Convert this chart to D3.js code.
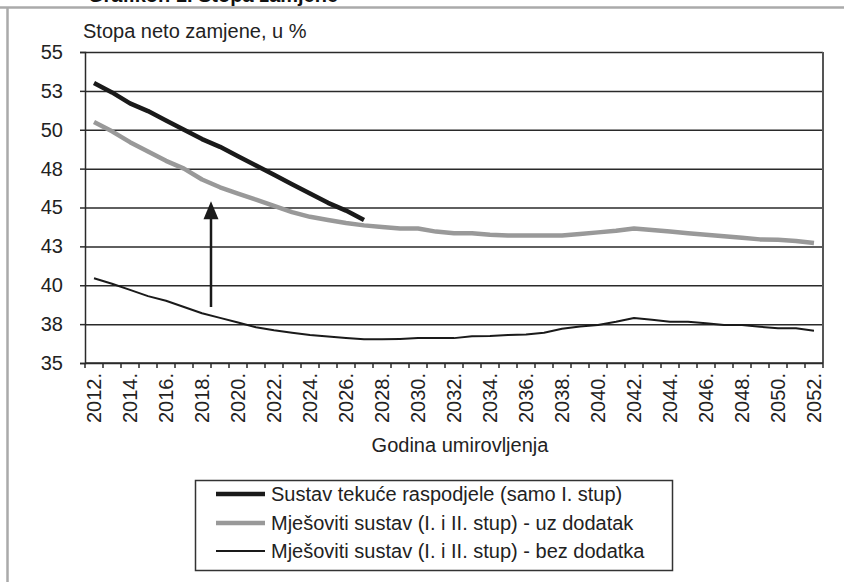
<!DOCTYPE html>
<html>
<head>
<meta charset="utf-8">
<script src="https://cdn.jsdelivr.net/npm/d3@7"></script>
<style>
  body { margin: 0; background: #fff; }
  svg text { font-family: "Liberation Sans", Arial, sans-serif; fill: #222; }
</style>
</head>
<body>
<div id="chart"></div>
<script>
// godine umirovljenja
const years = d3.range(2012, 2053).map(String);
const xTickLabels = d3.range(2012, 2053, 2).map(String);

// Sustav tekuce raspodjele (samo I. stup), 2012-2027
const payg = [53.0, 52.4, 51.7, 51.2, 50.6, 50.0, 49.4, 48.9, 48.3, 47.7,
              47.1, 46.5, 45.9, 45.3, 44.8, 44.2];

// Mjesoviti sustav - uz dodatak
const mixedWith = [50.5, 49.9, 49.2, 48.6, 48.0, 47.5, 46.8, 46.3, 45.9, 45.5,
                   45.1, 44.7, 44.4, 44.2, 44.0, 43.85, 43.75, 43.65, 43.65, 43.45,
                   43.35, 43.35, 43.25, 43.2, 43.2, 43.2, 43.2, 43.3, 43.4, 43.5,
                   43.65, 43.55, 43.45, 43.35, 43.25, 43.15, 43.05, 42.95, 42.93, 42.85,
                   42.72];

// Mjesoviti sustav - bez dodatka
const mixedWithout = [40.45, 40.1, 39.7, 39.3, 39.0, 38.6, 38.2, 37.9, 37.6, 37.3,
                      37.1, 36.95, 36.8, 36.7, 36.6, 36.52, 36.52, 36.55, 36.6, 36.6,
                      36.6, 36.72, 36.74, 36.8, 36.84, 36.95, 37.2, 37.35, 37.45, 37.65,
                      37.9, 37.78, 37.66, 37.66, 37.55, 37.44, 37.44, 37.33, 37.23, 37.23,
                      37.08];

const yTicks = [35, 37.5, 40, 42.5, 45, 47.5, 50, 52.5, 55];
const yTickLabels = ["35", "38", "40", "43", "45", "48", "50", "53", "55"];

const seriesNames = ["Sustav tekuće raspodjele (samo I. stup)",
                     "Mješoviti sustav (I. i II. stup) - uz dodatak",
                     "Mješoviti sustav (I. i II. stup) - bez dodatka"];

// strelica: od/do vrijednosti
const arrowFrom = 38.6;
const arrowTo = 45.4;

const width = 844, height = 582;
const plot_l = 85, plot_r = 823, plot_t = 52, plot_b = 363;

function drawChart() {
    var svg = d3.select("#chart").append("svg")
        .attr("width", width)
        .attr("height", height);

    // naslov (odrezan na vrhu) i sivi okvir
    svg.append("text")
        .attr("x", 88)
        .attr("y", 2)
        .style("font-weight", "bold")
        .style("font-size", "20px")
        .style("fill", "#111")
        .text("Grafikon 1. Stopa zamjene");
    svg.append("line")
        .attr("x1", 0).attr("x2", width)
        .attr("y1", 7.5).attr("y2", 7.5)
        .attr("stroke", "#aaa").attr("stroke-width", 2.5);
    svg.append("line")
        .attr("x1", 7.5).attr("x2", 7.5)
        .attr("y1", 7).attr("y2", height)
        .attr("stroke", "#aaa").attr("stroke-width", 2.5);

    var x = d3.scaleBand()
        .domain(years)
        .range([plot_l, plot_r])
        .padding(0);
    var y = d3.scaleLinear()
        .domain([35, 55])
        .range([plot_b, plot_t]);
    var cx = (d) => x(d) + x.bandwidth() / 2;

    // gridlines
    svg.append("g")
        .attr("transform", "translate(" + plot_l + ",0)")
        .call(d3.axisLeft(y).tickValues(yTicks).tickSize(-(plot_r - plot_l)).tickFormat(""))
        .call(g => g.select(".domain").remove())
        .call(g => g.selectAll("line").attr("stroke", "#2a2a2a").attr("stroke-width", 1.5));

    // y axis
    var yAxis = svg.append("g")
        .attr("transform", "translate(" + plot_l + ",0)")
        .call(d3.axisLeft(y).tickValues(yTicks).tickSize(5).tickPadding(17)
            .tickFormat((d, i) => yTickLabels[i]));
    yAxis.select(".domain").attr("stroke", "#2a2a2a").attr("stroke-width", 1.5);
    yAxis.selectAll("line").attr("stroke", "#2a2a2a").attr("stroke-width", 1.5);
    yAxis.selectAll("text")
        .style("font-size", "20px")
        .style("font-family", "Liberation Sans, Arial, sans-serif")
        .attr("fill", "#222");

    // desni rub
    svg.append("line")
        .attr("x1", plot_r).attr("x2", plot_r)
        .attr("y1", y(55)).attr("y2", y(35))
        .attr("stroke", "#555").attr("stroke-width", 2);

    // x axis: ticks between categories
    var xg = svg.append("g");
    xg.append("line")
        .attr("x1", plot_l).attr("x2", plot_r)
        .attr("y1", y(35)).attr("y2", y(35))
        .attr("stroke", "#2a2a2a").attr("stroke-width", 1.5);
    var bounds = years.map((d) => x(d)).concat([x(years[years.length - 1]) + x.bandwidth()]);
    xg.selectAll(".xtick")
        .data(bounds)
        .enter()
        .append("line")
        .attr("class", "xtick")
        .attr("x1", (d) => d).attr("x2", (d) => d)
        .attr("y1", y(35)).attr("y2", y(35) + 5)
        .attr("stroke", "#2a2a2a").attr("stroke-width", 1.5);
    xg.selectAll(".xlabel")
        .data(xTickLabels)
        .enter()
        .append("text")
        .attr("class", "xlabel")
        .attr("transform", (d) => "translate(" + cx(d) + "," + (y(35) + 10) + ") rotate(-90)")
        .attr("text-anchor", "end")
        .attr("dy", "0.35em")
        .style("font-size", "20px")
        .text((d) => d + ".");

    // naslovi osi
    svg.append("text")
        .attr("x", 83)
        .attr("y", 38)
        .style("font-size", "20px")
        .text("Stopa neto zamjene, u %");
    svg.append("text")
        .attr("x", (plot_l + plot_r) / 2 + 6)
        .attr("y", 452)
        .attr("text-anchor", "middle")
        .style("font-size", "20px")
        .text("Godina umirovljenja");

    // linije
    var line = d3.line()
        .x((d) => cx(d.year))
        .y((d) => y(d.value));
    var toPoints = (arr) => arr.map((v, i) => ({ year: years[i], value: v }));

    var series = [
        { values: mixedWithout, color: "#1a1a1a", w: 2 },
        { values: mixedWith, color: "#999999", w: 4.5 },
        { values: payg, color: "#1a1a1a", w: 4.5 }
    ];
    svg.selectAll(".series")
        .data(series)
        .enter()
        .append("path")
        .attr("class", "series")
        .attr("d", (d) => line(toPoints(d.values)))
        .attr("fill", "none")
        .attr("stroke", (d) => d.color)
        .attr("stroke-width", (d) => d.w)
        .attr("stroke-linejoin", "round");

    // strelica
    var ax = x("2018") + x.bandwidth();
    svg.append("line")
        .attr("x1", ax).attr("x2", ax)
        .attr("y1", y(arrowFrom)).attr("y2", y(arrowTo) + 14)
        .attr("stroke", "#1a1a1a").attr("stroke-width", 2.5);
    svg.append("path")
        .attr("d", "M" + ax + "," + y(arrowTo) +
                   " L" + (ax - 7.5) + "," + (y(arrowTo) + 18) +
                   " L" + (ax + 7.5) + "," + (y(arrowTo) + 18) + " Z")
        .attr("fill", "#1a1a1a");

    // legenda
    var legend = svg.append("g");
    legend.append("rect")
        .attr("x", 195.5).attr("y", 480.5)
        .attr("width", 477).attr("height", 90)
        .attr("fill", "#fff")
        .attr("stroke", "#333").attr("stroke-width", 1.5);
    var legendStyles = [
        { color: "#1a1a1a", w: 4.5 },
        { color: "#999999", w: 4.5 },
        { color: "#1a1a1a", w: 2 }
    ];
    var rowY = [494, 523, 551];
    var rows = legend.selectAll(".lrow")
        .data(seriesNames)
        .enter()
        .append("g")
        .attr("class", "lrow")
        .attr("transform", (d, i) => "translate(0," + rowY[i] + ")");
    rows.append("line")
        .attr("x1", 216).attr("x2", 265)
        .attr("y1", 0).attr("y2", 0)
        .attr("stroke", (d, i) => legendStyles[i].color)
        .attr("stroke-width", (d, i) => legendStyles[i].w);
    rows.append("text")
        .attr("x", 271)
        .attr("dy", "0.35em")
        .style("font-size", "20px")
        .text((d) => d);
}

drawChart();
</script>
</body>
</html>
